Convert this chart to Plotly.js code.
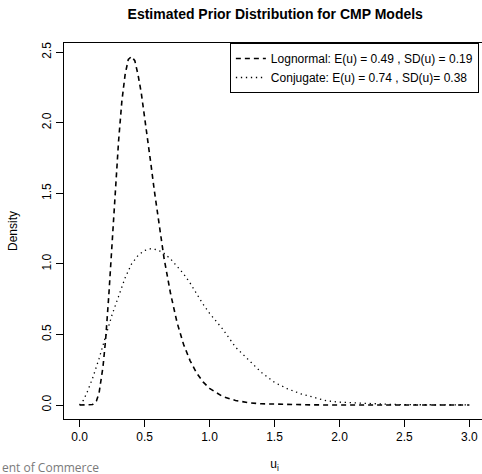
<!DOCTYPE html>
<html>
<head>
<meta charset="utf-8">
<script src="https://cdn.plot.ly/plotly-3.0.1.min.js"></script>
<style>
html, body { margin: 0; padding: 0; overflow: hidden; background: #fff; width: 482px; height: 474px; }
#chart { width: 490px; height: 474px; }
</style>
</head>
<body>
<div id="chart"></div>
<script>
// Lognormal prior density (dashed)
const lognormX = [0, 0.05, 0.1, 0.13, 0.15, 0.18, 0.2, 0.225, 0.25, 0.275, 0.3, 0.325, 0.35, 0.375, 0.4, 0.425, 0.45, 0.475, 0.5, 0.525, 0.55, 0.575, 0.6, 0.65, 0.7, 0.75, 0.8, 0.85, 0.9, 0.95, 1.0, 1.1, 1.2, 1.3, 1.4, 1.6, 1.8, 2.0, 2.2, 2.5, 2.8, 3.0];
const lognormY = [0, 0, 0.003, 0.03, 0.085, 0.27, 0.46, 0.78, 1.15, 1.53, 1.87, 2.15, 2.34, 2.45, 2.47, 2.44, 2.34, 2.21, 2.05, 1.88, 1.70, 1.52, 1.35, 1.04, 0.79, 0.585, 0.43, 0.315, 0.227, 0.164, 0.118, 0.061, 0.032, 0.016, 0.0086, 0.0024, 0.0007, 0.0002, 0, 0, 0, 0];

// Conjugate prior density (dotted)
const conjX = [0, 0.03, 0.06, 0.1, 0.15, 0.2, 0.25, 0.3, 0.35, 0.4, 0.45, 0.5, 0.55, 0.6, 0.65, 0.7, 0.75, 0.8, 0.85, 0.9, 0.95, 1.0, 1.1, 1.2, 1.3, 1.4, 1.5, 1.6, 1.7, 1.8, 1.9, 2.0, 2.2, 2.4, 2.6, 2.8, 3.0];
const conjY = [0, 0.035, 0.095, 0.19, 0.33, 0.48, 0.64, 0.77, 0.9, 1.0, 1.06, 1.095, 1.108, 1.10, 1.075, 1.035, 0.985, 0.93, 0.865, 0.785, 0.715, 0.65, 0.54, 0.41, 0.32, 0.23, 0.16, 0.115, 0.08, 0.055, 0.03, 0.02, 0.01, 0.004, 0.002, 0.001, 0.0005];

const seriesNames = ["Lognormal: E(u) = 0.49 , SD(u) = 0.19", "Conjugate: E(u) = 0.74 , SD(u)= 0.38"];
const xTicks = [0, 0.5, 1.0, 1.5, 2.0, 2.5, 3.0];
const xTickText = ["0.0", "0.5", "1.0", "1.5", "2.0", "2.5", "3.0"];
const yTicks = [0, 0.5, 1.0, 1.5, 2.0, 2.5];
const yTickText = ["0.0", "0.5", "1.0", "1.5", "2.0", "2.5"];

const FONT = "'Liberation Sans', Arial, Helvetica, sans-serif";

const traces = [
  { x: lognormX, y: lognormY, type: "scatter", mode: "lines", name: seriesNames[0],
    line: { color: "#000", width: 1.6, dash: "5px,4px" } },
  { x: conjX, y: conjY, type: "scatter", mode: "lines", name: seriesNames[1],
    line: { color: "#000", width: 1.3, dash: "1.3px,3.7px" } }
];

const layout = {
  width: 490, height: 474,
  margin: { l: 64, r: 5, t: 43, b: 55 },
  paper_bgcolor: "#fff", plot_bgcolor: "#fff",
  font: { family: FONT, size: 12, color: "#000" },
  title: { text: "<b>Estimated Prior Distribution for CMP Models</b>", font: { family: FONT, size: 14, color: "#000" },
           x: 0.5617, xanchor: "center", y: 0.97, yanchor: "middle", yref: "container" },
  showlegend: true,
  legend: { x: 0.394, xanchor: "left", y: 1, yanchor: "top", bgcolor: "#fff", bordercolor: "#000", borderwidth: 1,
            font: { family: FONT, size: 12, color: "#000" }, itemwidth: 30, tracegroupgap: 0 },
  xaxis: {
    range: [-0.12, 3.12], tickvals: xTicks, ticktext: xTickText,
    showgrid: false, zeroline: false, showline: true, mirror: true, linecolor: "#000", linewidth: 1,
    ticks: "outside", ticklen: 7, tickcolor: "#000", tickwidth: 1,
    tickfont: { family: FONT, size: 12, color: "#000" },
    title: { text: "u<sub>i</sub>", font: { family: FONT, size: 12, color: "#000" }, standoff: 16 }
  },
  yaxis: {
    range: [-0.0992, 2.5656], tickvals: yTicks, ticktext: yTickText, tickangle: -90,
    showgrid: false, zeroline: false, showline: true, mirror: false, linecolor: "#000", linewidth: 1,
    ticks: "outside", ticklen: 7, tickcolor: "#000", tickwidth: 1,
    tickfont: { family: FONT, size: 12, color: "#000" },
    title: { text: "Density", font: { family: FONT, size: 12, color: "#000" }, standoff: 20 }
  },
  annotations: [
    { text: "ent of Commerce", xref: "paper", yref: "paper", x: -0.152, xanchor: "left", y: -0.128, yanchor: "middle",
      showarrow: false, font: { family: "'Open Sans', sans-serif", size: 12, color: "#7a7a7a" } }
  ]
};

Plotly.newPlot("chart", traces, layout, { displayModeBar: false, staticPlot: true });
</script>
</body>
</html>
